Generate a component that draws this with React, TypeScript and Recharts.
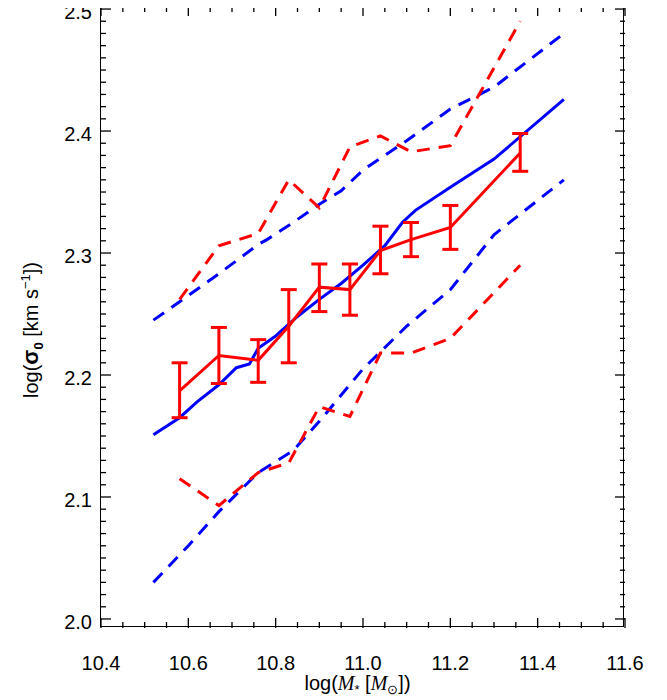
import React from 'react';
import { LineChart, Line, XAxis, YAxis, ErrorBar } from 'recharts';

const blueSolidX = [10.52, 10.58, 10.62, 10.67, 10.71, 10.74, 10.76, 10.8, 10.85, 10.9, 10.95, 11.0, 11.05, 11.09, 11.12, 11.2, 11.3, 11.46];
const blueSolidY = [2.151, 2.165, 2.178, 2.192, 2.206, 2.209, 2.222, 2.232, 2.248, 2.262, 2.275, 2.29, 2.306, 2.325, 2.335, 2.354, 2.377, 2.426];
const blueUpX = [10.52, 10.58, 10.67, 10.76, 10.78, 10.84, 10.9, 10.95, 11.0, 11.1, 11.2, 11.3, 11.46];
const blueUpY = [2.245, 2.26, 2.283, 2.307, 2.311, 2.325, 2.34, 2.351, 2.368, 2.392, 2.418, 2.436, 2.48];
const blueLoX = [10.52, 10.6, 10.67, 10.76, 10.84, 10.9, 11.0, 11.1, 11.2, 11.3, 11.46];
const blueLoY = [2.03, 2.06, 2.088, 2.12, 2.138, 2.162, 2.205, 2.24, 2.27, 2.315, 2.36];
const redX = [10.58, 10.67, 10.76, 10.83, 10.9, 10.97, 11.04, 11.11, 11.2, 11.36];
const redMean = [2.187, 2.216, 2.212, 2.24, 2.272, 2.27, 2.302, 2.311, 2.321, 2.382];
const redErrLo = [2.165, 2.193, 2.194, 2.21, 2.252, 2.249, 2.283, 2.297, 2.303, 2.367];
const redErrHi = [2.21, 2.239, 2.229, 2.27, 2.291, 2.291, 2.322, 2.325, 2.339, 2.398];
const redUpY = [2.262, 2.306, 2.316, 2.36, 2.337, 2.387, 2.396, 2.383, 2.388, 2.49];
const redLoY = [2.115, 2.093, 2.12, 2.128, 2.174, 2.166, 2.218, 2.218, 2.23, 2.29];

const xMajor = [10.4, 10.6, 10.8, 11.0, 11.2, 11.4, 11.6];
const xTicks = Array.from({ length: 25 }, (_, i) => +(10.4 + i * 0.05).toFixed(2));
const yMajor = [2.0, 2.1, 2.2, 2.3, 2.4, 2.5];
const yTicks = Array.from({ length: 51 }, (_, i) => +(2.0 + i * 0.01).toFixed(2));

const pts = (xs: number[], ys: number[]) => xs.map((x, i) => ({ x, y: ys[i] }));
const redData = redX.map((x, i) => ({ x, y: redMean[i], err: [redMean[i] - redErrLo[i], redErrHi[i] - redMean[i]] }));

const XD: [number, number] = [10.4, 11.6];
const YD: [number, number] = [1.9926, 2.5025];
const font = 'Liberation Sans, Arial, sans-serif';
const BLUE = '#0000ff';
const RED = '#ff0000';
const TOP = 6, BOTTOM = 628, LEFT = 101, RIGHT = 625;

const isMajor = (v: number, list: number[]) => list.some((m) => Math.abs(m - v) < 1e-6);

const XTick = (p: any) => {
  const v = p.payload.value;
  const major = isMajor(v, xMajor);
  const len = major ? 10 : 6;
  return (
    <g>
      <line x1={p.x} x2={p.x} y1={BOTTOM} y2={BOTTOM - len} stroke="#000" strokeWidth={1.3} />
      <line x1={p.x} x2={p.x} y1={TOP} y2={TOP + len} stroke="#000" strokeWidth={1.3} />
      {major && <text x={p.x} y={BOTTOM + 42} textAnchor="middle" fontSize={20} fontFamily={font} fill="#000">{v.toFixed(1)}</text>}
    </g>
  );
};

const YTick = (p: any) => {
  const v = p.payload.value;
  const major = isMajor(v, yMajor);
  const len = major ? 10 : 5;
  return (
    <g>
      <line x1={LEFT} x2={LEFT + len} y1={p.y} y2={p.y} stroke="#000" strokeWidth={1.3} />
      <line x1={RIGHT} x2={RIGHT - len} y1={p.y} y2={p.y} stroke="#000" strokeWidth={1.3} />
      {major && <text x={LEFT - 9} y={p.y + 10} textAnchor="end" fontSize={20} fontFamily={font} fill="#000">{v.toFixed(1)}</text>}
    </g>
  );
};

export default function App() {
  const common = { xAxisId: 'x', yAxisId: 'y', isAnimationActive: false, dot: false, type: 'linear' as const, dataKey: 'y', strokeWidth: 3 };
  return (
    <div style={{ position: 'relative', left: -8, top: -8, width: 667, height: 700 }}>
      <LineChart width={667} height={700} margin={{ top: TOP, right: 667 - RIGHT, left: 0, bottom: 0 }}>
        <XAxis xAxisId="x" type="number" dataKey="x" domain={XD} ticks={xTicks} allowDataOverflow height={700 - BOTTOM}
          tickLine={false} tickSize={0} tickMargin={0} axisLine={false} tick={<XTick />} interval={0} />
        <YAxis yAxisId="y" type="number" domain={YD} ticks={yTicks} allowDataOverflow width={LEFT}
          tickLine={false} tickSize={0} tickMargin={0} axisLine={false} tick={<YTick />} interval={0} />

        <Line {...common} data={pts(blueUpX, blueUpY)} stroke={BLUE} strokeDasharray="13 9" />
        <Line {...common} data={pts(blueLoX, blueLoY)} stroke={BLUE} strokeDasharray="13 9" />
        <Line {...common} data={pts(blueSolidX, blueSolidY)} stroke={BLUE} />
        <Line {...common} data={pts(redX, redUpY)} stroke={RED} strokeDasharray="13 9" />
        <Line {...common} data={pts(redX, redLoY)} stroke={RED} strokeDasharray="13 9" />
        <Line {...common} data={redData} stroke={RED}>
          <ErrorBar dataKey="err" width={8} stroke={RED} strokeWidth={3} direction="y" />
        </Line>
      </LineChart>
      <div style={{ position: 'absolute', left: LEFT, top: TOP, width: RIGHT - LEFT, height: BOTTOM - TOP, border: '1.5px solid #000', boxSizing: 'border-box', marginLeft: -0.75, marginTop: -0.75, pointerEvents: 'none' }} />
      <div style={{ position: 'absolute', left: 18, top: 330, transform: 'translate(-50%,-50%) rotate(-90deg)', transformOrigin: 'center', whiteSpace: 'nowrap', fontSize: 20, fontFamily: font, marginLeft: 14 }}>
        log(<b style={{ fontSize: 22 }}>σ</b><sub style={{ fontSize: 13, fontWeight: 'bold' }}>0</sub> [km s<sup style={{ fontSize: 13 }}>−1</sup>])
      </div>
      <div style={{ position: 'absolute', left: 0, width: 667, top: 672, textAlign: 'center', paddingLeft: 48, boxSizing: 'border-box', fontSize: 20, fontFamily: font, whiteSpace: 'nowrap' }}>
        log(<i style={{ fontFamily: 'Liberation Serif, serif' }}>M</i><span style={{ fontSize: 13, verticalAlign: -4 }}>*</span> [<i style={{ fontFamily: 'Liberation Serif, serif' }}>M</i><span style={{ fontSize: 13, verticalAlign: -4 }}>⊙</span>])
      </div>
    </div>
  );
}
